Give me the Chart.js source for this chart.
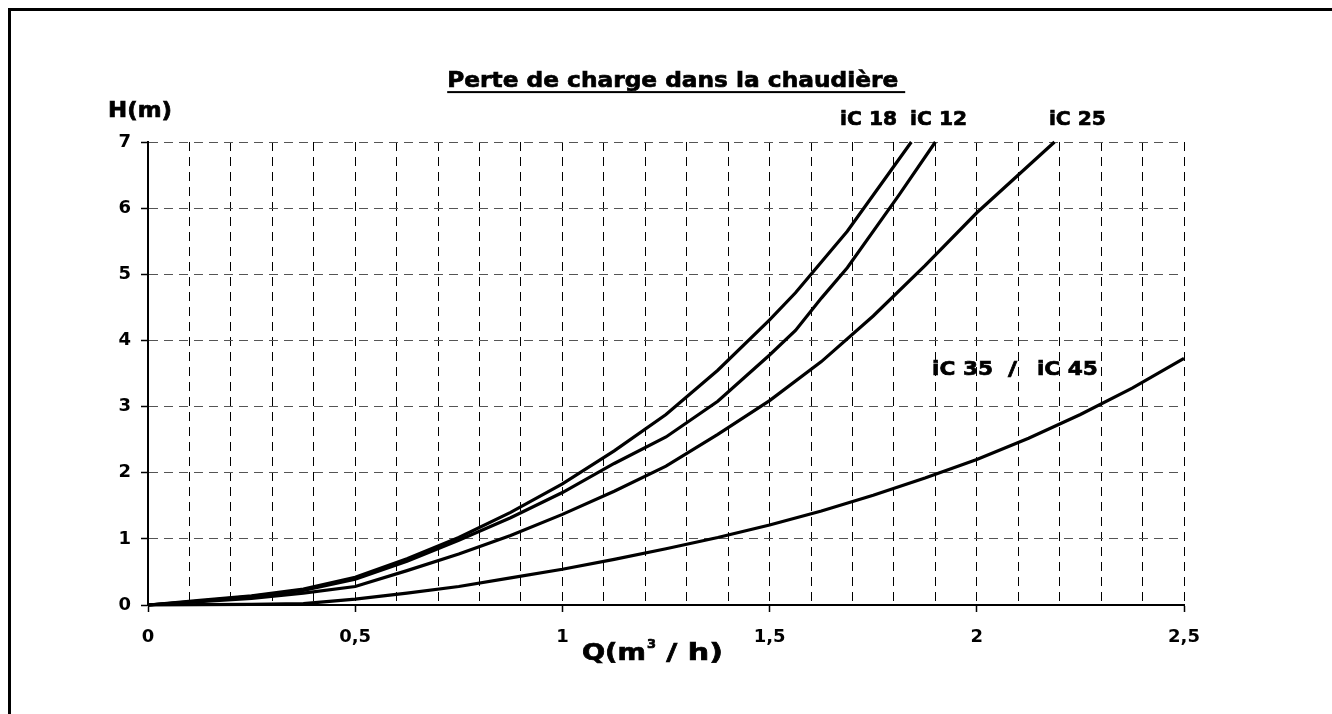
<!DOCTYPE html>
<html><head><meta charset="utf-8">
<script src="https://cdn.jsdelivr.net/npm/chart.js@4.4.1/dist/chart.umd.min.js"></script>
<style>html,body{margin:0;padding:0;background:#fff;overflow:hidden}#wrap{position:relative;width:1332px;height:714px}</style>
</head><body><div id="wrap"><canvas id="c" width="1332" height="714"></canvas></div>
<script>
// ---- data ----
const seriesNames = ['iC 18', 'iC 12', 'iC 25', 'iC 35 / iC 45'];
const q_iC18 = [0, 0.125, 0.25, 0.375, 0.5, 0.625, 0.75, 0.875, 1.0, 1.125, 1.25, 1.375, 1.5, 1.5625, 1.6875, 1.842];
const h_iC18 = [0, 0.07, 0.14, 0.24, 0.42, 0.70, 1.02, 1.40, 1.83, 2.33, 2.88, 3.55, 4.31, 4.72, 5.65, 7.0];
const q_iC12 = [0, 0.125, 0.25, 0.375, 0.5, 0.625, 0.75, 0.875, 1.0, 1.125, 1.25, 1.375, 1.5, 1.5625, 1.625, 1.6875, 1.8125, 1.9];
const h_iC12 = [0, 0.06, 0.13, 0.22, 0.39, 0.66, 0.98, 1.32, 1.70, 2.14, 2.54, 3.08, 3.78, 4.15, 4.64, 5.10, 6.20, 7.0];
const q_iC25 = [0, 0.125, 0.25, 0.375, 0.5, 0.625, 0.75, 0.875, 1.0, 1.125, 1.25, 1.375, 1.5, 1.625, 1.75, 1.875, 2.0, 2.1875];
const h_iC25 = [0, 0.05, 0.10, 0.18, 0.28, 0.52, 0.77, 1.05, 1.37, 1.72, 2.10, 2.58, 3.09, 3.68, 4.37, 5.13, 5.93, 7.0];
const q_iC35 = [0, 0.125, 0.25, 0.375, 0.5, 0.625, 0.75, 0.875, 1.0, 1.125, 1.25, 1.375, 1.5, 1.625, 1.75, 1.875, 2.0, 2.125, 2.25, 2.375, 2.5];
const h_iC35 = [0, 0.005, 0.01, 0.02, 0.09, 0.18, 0.28, 0.41, 0.54, 0.69, 0.85, 1.02, 1.21, 1.42, 1.66, 1.92, 2.20, 2.52, 2.88, 3.28, 3.73];
const xTickLabels = ['0', '0,5', '1', '1,5', '2', '2,5'];
const yTickLabels = ['0', '1', '2', '3', '4', '5', '6', '7'];
const chartTitle = 'Perte de charge dans la chaudière';
const yAxisTitle = 'H(m)';
const xAxisTitleParts = ['Q(m', '3', ' / h)'];

const FONT = '"DejaVu Sans", Verdana, sans-serif';
const pts = (q, h) => q.map((v, i) => ({x: v, y: h[i]}));
const mkSet = (name, q, h) => ({label: name, data: pts(q, h), showLine: true, borderColor: '#000', borderWidth: 3.2,
  pointRadius: 0, tension: 0, fill: false, clip: 4});

function stretchText(ctx, text, x, y, font, targetW) {
  ctx.save();
  ctx.font = font;
  const w = ctx.measureText(text).width;
  const s = targetW ? targetW / w : 1;
  ctx.translate(x, y);
  ctx.scale(s, 1);
  ctx.textAlign = 'left';
  ctx.textBaseline = 'alphabetic';
  ctx.fillStyle = '#000';
  ctx.strokeStyle = '#000';
  ctx.lineWidth = 0.7;
  ctx.fillText(text, 0, 0);
  ctx.strokeText(text, 0, 0);
  ctx.restore();
  return w * s;
}

const decor = {
  id: 'decor',
  beforeDraw(chart) {
    const c = chart.ctx;
    c.save();
    c.fillStyle = '#fff';
    c.fillRect(0, 0, chart.width, chart.height);
    c.strokeStyle = '#000';
    c.lineWidth = 3;
    c.beginPath();
    c.moveTo(9.5, chart.height + 2);
    c.lineTo(9.5, 9.5);
    c.lineTo(chart.width + 2, 9.5);
    c.stroke();
    c.restore();
  },
  afterDraw(chart) {
    const c = chart.ctx, xs = chart.scales.x, ys = chart.scales.y;
    const X = v => xs.getPixelForValue(v), Y = v => ys.getPixelForValue(v);
    // title
    const tl = X(0.722), tb = Y(7.83);
    const tw = stretchText(c, chartTitle, tl, tb, 'bold 22px ' + FONT, 451);
    c.save(); c.fillStyle = '#000'; c.fillRect(tl, tb + 4, tw + 7, 2); c.restore();
    // y axis title
    stretchText(c, yAxisTitle, X(-0.0965), Y(7.378), 'bold 22px ' + FONT, 64);
    // series labels
    const f20 = 'bold 20px ' + FONT;
    stretchText(c, seriesNames[0], X(1.67), Y(7.257), f20, 57);
    stretchText(c, seriesNames[1], X(1.839), Y(7.257), f20, 57);
    stretchText(c, seriesNames[2], X(2.174), Y(7.257), f20, 57);
    const parts = seriesNames[3].split(' / ');
    const lb = Y(3.48);
    stretchText(c, parts[0], X(1.892), lb, f20, 61);
    stretchText(c, '/', X(2.075), lb, f20, 9);
    stretchText(c, parts[1], X(2.145), lb, f20, 61);
    // x axis title with superscript
    const x0 = X(1.047); let x = x0; const b = Y(-0.83);
    x += stretchText(c, xAxisTitleParts[0], x, b, 'bold 23px ' + FONT, 64);
    x += stretchText(c, xAxisTitleParts[1], x + 1, b - 12, 'bold 13px ' + FONT, 9) + 1;
    stretchText(c, xAxisTitleParts[2], x, b, 'bold 23px ' + FONT, 141 - (x - x0));
  }
};

new Chart(document.getElementById('c'), {
  type: 'scatter',
  data: {datasets: [
    mkSet(seriesNames[0], q_iC18, h_iC18),
    mkSet(seriesNames[1], q_iC12, h_iC12),
    mkSet(seriesNames[2], q_iC25, h_iC25),
    mkSet(seriesNames[3], q_iC35, h_iC35)
  ]},
  options: {
    responsive: false, animation: false, devicePixelRatio: 1,
    layout: {padding: {left: 20, top: 142, right: 148, bottom: 20}},
    plugins: {legend: {display: false}, tooltip: {enabled: false}, title: {display: false}},
    scales: {
      x: {
        type: 'linear', min: 0, max: 2.5,
        afterFit: s => { s.height = 89; },
        ticks: {
          stepSize: 0.1, autoSkip: false, maxRotation: 0, padding: 15, color: '#000',
          font: {family: FONT, size: 18, weight: 'bold'},
          callback: v => { const k = Math.round(v * 10); return k % 5 === 0 ? xTickLabels[k / 5] : ''; }
        },
        grid: {
          color: ctx => (ctx.tick && Math.round(ctx.tick.value * 10) === 0) ? 'rgba(0,0,0,0)' : '#000',
          lineWidth: 1, tickLength: 7, tickWidth: 1.5,
          tickColor: ctx => (ctx.tick && Math.round(ctx.tick.value * 10) % 5 === 0) ? '#000' : 'rgba(0,0,0,0)'
        },
        border: {display: true, color: '#000', width: 2, dash: [9, 6]}
      },
      y: {
        type: 'linear', min: 0, max: 7,
        afterFit: s => { s.width = 128; },
        ticks: {
          stepSize: 1, autoSkip: false, padding: 10, color: '#000',
          font: {family: FONT, size: 18, weight: 'bold'},
          callback: v => yTickLabels[Math.round(v)]
        },
        grid: {
          color: ctx => (ctx.tick && ctx.tick.value === 0) ? 'rgba(0,0,0,0)' : '#555',
          lineWidth: 1, tickLength: 7, tickWidth: 1.5, tickColor: '#000'
        },
        border: {display: true, color: '#000', width: 2, dash: [9, 6]}
      }
    }
  },
  plugins: [decor]
});
</script></body></html>
